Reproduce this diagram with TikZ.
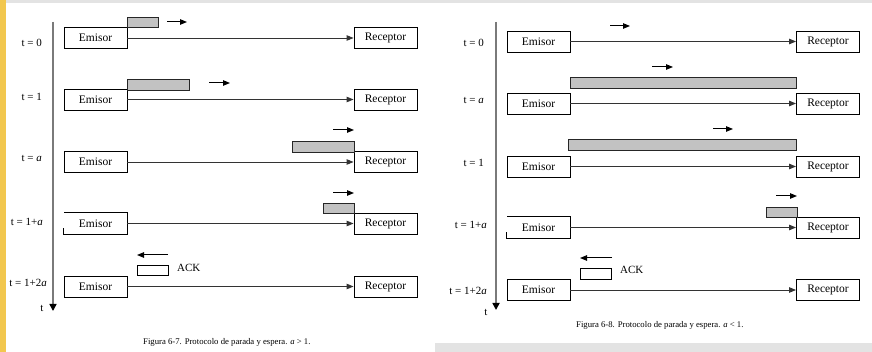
\documentclass[tikz,border=0pt]{standalone}
\usepackage{fontspec}
\setmainfont{Liberation Serif}
\usetikzlibrary{arrows.meta}
\definecolor{stripe}{HTML}{F2C74E}
\definecolor{band}{HTML}{E3E3E3}
\definecolor{pkt}{HTML}{C2C2C2}
\definecolor{axisgray}{HTML}{7A7A7A}
\tikzset{
  station/.style={draw=black, line width=0.9pt, minimum width=63pt, minimum height=21pt,
    inner sep=0pt, font=\fontsize{11.5}{13}\selectfont},
  openstation/.style={station, draw=none},
  link/.style={draw=black!80, line width=0.9pt, -{Triangle[length=7pt,width=5.5pt]}},
  packet/.style={draw=black!85, fill=pkt, line width=0.9pt},
  ackbox/.style={draw=black, fill=white, line width=0.9pt, minimum width=31pt,
    minimum height=10.5pt, inner sep=0pt},
  acklabel/.style={anchor=west, inner sep=0pt, font=\fontsize{11}{13}\selectfont},
  dirarrow/.style={line width=1pt, -{Triangle[length=7pt,width=5.5pt]}},
  timeaxis/.style={draw=axisgray, line width=1.6pt, -{Triangle[length=7pt,width=7pt,color=black]}},
  tlabel/.style={anchor=east, inner sep=0pt, font=\fontsize{11}{13}\selectfont},
  taxis/.style={inner sep=0pt, font=\fontsize{11}{13}\selectfont},
  figcaption/.style={anchor=west, inner sep=0pt, font=\fontsize{8.7}{10}\selectfont},
}
\begin{document}
\begin{tikzpicture}[x=1pt,y=-1pt]
\useasboundingbox (0,0) rectangle (872,352);
% page edges
\fill[white] (0,0) rectangle (872,352);
\fill[band] (6,0) rectangle (872,3);
\fill[band] (435,343) rectangle (872,352);
\fill[stripe] (0,0) rectangle (6,352);

% ================= Figura 6-7 (a > 1) =================
\coordinate (Ltop) at (53,22);
\coordinate (Lbot) at (53,311);
\draw[timeaxis] (Ltop) -- (Lbot);
\node[taxis] (Lt) at (42,308) {t};

\node[tlabel] (L0lab) at (42,43) {t = 0};
\node[tlabel] (L1lab) at (42,97) {t = 1};
\node[tlabel] (Lalab) at (42,158) {t = \textit{a}};
\node[tlabel] (L1alab) at (43,222) {t = 1+\textit{a}};
\node[tlabel] (L12alab) at (47,283) {t = 1+2\textit{a}};

\node[station] (LE0) at (95.5,38) {Emisor};
\node[station] (LR0) at (385.5,38) {Receptor};
\node[station] (LE1) at (95.5,99.5) {Emisor};
\node[station] (LR1) at (385.5,99.5) {Receptor};
\node[station] (LEa) at (95.5,162) {Emisor};
\node[station] (LRa) at (385.5,162) {Receptor};
\node[openstation] (LE1a) at (95.5,223.5) {Emisor};
\node[station] (LR1a) at (385.5,223.5) {Receptor};
\node[station] (LE12a) at (95.5,286.5) {Emisor};
\node[station] (LR12a) at (385.5,286.5) {Receptor};
\draw[line width=0.9pt] ([yshift=6pt]LE1a.south west) -- (LE1a.south west) -- (LE1a.south east)
  -- (LE1a.north east) -- (LE1a.north west);

\draw[link] (LE0) -- (LR0);
\draw[link] (LE1) -- (LR1);
\draw[link] (LEa) -- (LRa);
\draw[link] (LE1a) -- (LR1a);
\draw[link] (LE12a) -- (LR12a);

% frames in flight
\draw[packet] (127,17) rectangle (158,27);
\draw[dirarrow] (167,22) -- (187,22);
\draw[packet] (127,79) rectangle (189,90);
\draw[dirarrow] (209,83) -- (230,83);
\draw[packet] (292,141) rectangle (354,152);
\draw[dirarrow] (333,130) -- (354,130);
\draw[packet] (323,203) rectangle (354,213);
\draw[dirarrow] (333,193) -- (354,193);

% acknowledgement
\node[ackbox] (Lack) at (152.5,270.5) {};
\node[acklabel] (Lacklab) at (177,268) {ACK};
\draw[dirarrow] (168,255) -- (137,255);

\node[figcaption] (Lcap) at (143,342) {Figura 6-7. Protocolo de parada y espera. \textit{a} > 1.};

% ================= Figura 6-8 (a < 1) =================
\coordinate (Rtop) at (496,22);
\coordinate (Rbot) at (496,310);
\draw[timeaxis] (Rtop) -- (Rbot);
\node[taxis] (Rt) at (486,312) {t};

\node[tlabel] (R0lab) at (484,43) {t = 0};
\node[tlabel] (Ralab) at (484,100) {t = \textit{a}};
\node[tlabel] (R1lab) at (484,163) {t = 1};
\node[tlabel] (R1alab) at (487,225) {t = 1+\textit{a}};
\node[tlabel] (R12alab) at (487,291) {t = 1+2\textit{a}};

\node[station] (RE0) at (538.5,41.5) {Emisor};
\node[station] (RR0) at (828,41.5) {Receptor};
\node[station] (REa) at (538.5,103.5) {Emisor};
\node[station] (RRa) at (828,103.5) {Receptor};
\node[station] (RE1) at (538.5,166.5) {Emisor};
\node[station] (RR1) at (828,166.5) {Receptor};
\node[openstation] (RE1a) at (538.5,227.5) {Emisor};
\node[station] (RR1a) at (828,227.5) {Receptor};
\node[station] (RE12a) at (538.5,290) {Emisor};
\node[station] (RR12a) at (828,290) {Receptor};
\draw[line width=0.9pt] ([yshift=6pt]RE1a.south west) -- (RE1a.south west) -- (RE1a.south east)
  -- (RE1a.north east) -- (RE1a.north west);

\draw[link] (RE0) -- (RR0);
\draw[link] (REa) -- (RRa);
\draw[link] (RE1) -- (RR1);
\draw[link] (RE1a) -- (RR1a);
\draw[link] (RE12a) -- (RR12a);

% frames in flight
\draw[dirarrow] (610,26) -- (630,26);
\draw[packet] (570,77) rectangle (796,88);
\draw[dirarrow] (652,67) -- (673,67);
\draw[packet] (568,139) rectangle (796,150);
\draw[dirarrow] (713,129) -- (733,129);
\draw[packet] (766,207) rectangle (797,217);
\draw[dirarrow] (776,196) -- (797,196);

% acknowledgement
\node[ackbox] (Rack) at (596,274) {};
\node[acklabel] (Racklab) at (620,270) {ACK};
\draw[dirarrow] (612,258) -- (580,258);

\node[figcaption] (Rcap) at (576,325) {Figura 6-8. Protocolo de parada y espera. \textit{a} < 1.};
\end{tikzpicture}
\end{document}
